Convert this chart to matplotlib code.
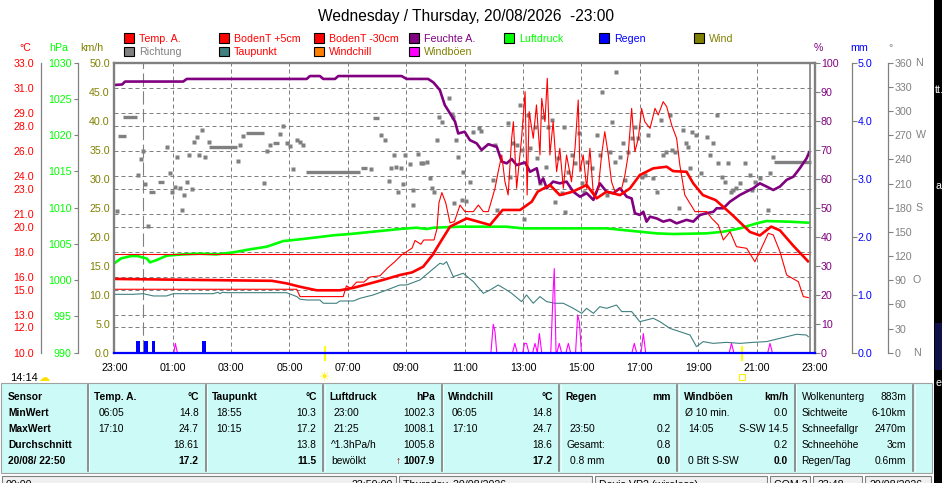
import matplotlib
matplotlib.use("Agg")
import matplotlib.pyplot as plt
import matplotlib.transforms as mtransforms
from matplotlib.patches import Rectangle

plt.rcParams['font.family'] = ['Liberation Sans', 'DejaVu Sans']
plt.rcParams['font.size'] = 7.7

# data #########################################################################
# time = hours after 23:00 of the previous day
hour_labels = ["23:00", "01:00", "03:00", "05:00", "07:00", "09:00", "11:00",
               "13:00", "15:00", "17:00", "19:00", "21:00", "23:00"]

# Temp. A. (degC)
ta_t = [0, 1.8, 5.4, 5.9, 6.36, 6.93, 7.73, 8.2, 8.64, 9.2, 9.78, 10.2, 10.58,
        10.9, 11.15, 11.5, 12.07, 12.87, 13.3, 13.9, 14.3, 14.5, 14.92, 15.26,
        15.7, 16.18, 16.52, 16.86, 17.32, 17.66, 18.0, 18.46, 18.92, 19.14,
        19.6, 19.83, 20.16, 20.6, 21.18, 21.77, 22.11, 22.5, 22.8, 23.25, 23.76]
ta_v = [15.85, 15.8, 15.7, 15.5, 15.23, 14.95, 14.95, 15.15, 15.42, 15.77,
        16.16, 16.37, 16.82, 17.75, 18.7, 20.0, 20.65, 20.13, 21.32, 21.32,
        21.98, 22.77, 23.3, 22.5, 22.77, 23.3, 22.24, 22.77, 22.5, 23.03, 24.09,
        24.62, 24.75, 24.4, 24.35, 23.43, 22.5, 22.1, 20.9, 19.58, 19.3, 20.0,
        19.7, 18.5, 17.25]

# BodenT +5cm (degC)
soil5_t = [0, 6.25, 6.36, 7.84, 7.95, 8.1, 8.3, 8.55, 8.75, 9.1, 9.35, 9.6,
           9.84, 10.2, 10.3, 10.5, 10.6, 10.95, 11.05, 11.12, 11.22, 11.35,
           11.5, 11.65, 11.84, 12.01, 12.3, 12.47, 12.64, 12.81, 13.04, 13.15,
           13.27, 13.38, 13.49, 13.61, 13.67, 13.78, 13.95, 14.07, 14.14, 14.21,
           14.35, 14.46, 14.58, 14.64, 14.75, 14.83, 14.92, 15.03, 15.15, 15.26,
           15.38, 15.49, 15.66, 15.78, 15.89, 15.95, 16.06, 16.18, 16.29, 16.41,
           16.58, 16.69, 16.8, 16.92, 17.03, 17.15, 17.38, 17.49, 17.6, 17.72,
           17.83, 17.95, 18.06, 18.17, 18.35, 18.52, 18.63, 18.8, 18.92, 19.09,
           19.26, 19.37, 19.54, 19.89, 20.29, 20.46, 20.69, 20.86, 21.09, 21.31,
           21.66, 21.94, 22.11, 22.4, 22.57, 22.8, 23.03, 23.43, 23.6, 23.77]
soil5_v = [15.03, 15.03, 14.45, 14.45, 15.3, 15.1, 15.6, 15.6, 16.0, 16.1,
           16.7, 17.2, 17.75, 18.3, 18.9, 18.6, 18.94, 18.94, 19.8, 21.9, 22.7,
           21.9, 20.3, 20.4, 21.71, 21.19, 21.19, 21.71, 21.19, 21.19, 23.04,
           24.36, 25.68, 23.56, 22.51, 27.0, 28.32, 23.04, 27.0, 30.7, 22.51,
           29.12, 27.0, 29.65, 25.68, 30.17, 28.32, 31.76, 25.68, 28.32, 24.36,
           26.21, 23.04, 25.68, 23.56, 26.21, 30.04, 24.36, 25.68, 23.04, 26.21,
           22.51, 23.04, 25.68, 27.53, 25.68, 23.56, 22.77, 23.04, 24.09, 25.68,
           29.38, 25.94, 27.0, 29.38, 28.32, 27.79, 29.38, 28.85, 29.91, 29.51,
           28.06, 27.0, 24.89, 22.51, 21.19, 21.19, 20.66, 20.13, 18.94, 19.6,
           18.41, 18.28, 17.22, 18.01, 19.47, 19.34, 18.01, 16.16, 15.63, 14.45,
           14.37]

# BodenT -30cm (degC)
soil30_t = [0, 23.83]
soil30_v = [17.83, 17.83]

# Taupunkt (degC)
dew_t = [0, 0.65, 0.99, 1.34, 1.79, 2.02, 3.39, 3.55, 3.62, 3.7, 3.85, 5.9,
         6.25, 6.36, 6.59, 7.04, 7.16, 7.61, 7.73, 8.19, 8.41, 8.87, 9.33, 9.78,
         10.01, 10.47, 10.81, 11.15, 11.27, 11.38, 11.61, 11.95, 12.3, 12.64,
         12.87, 13.15, 13.44, 13.61, 13.95, 14.12, 14.35, 14.58, 14.81, 15.09,
         15.38, 15.72, 16.01, 16.18, 16.41, 16.63, 16.86, 17.2, 17.38, 17.72,
         18.0, 18.46, 18.69, 19.03, 19.37, 19.72, 19.94, 20.17, 20.51, 20.97,
         21.43, 21.88, 22.34, 22.57, 23.03, 23.37, 23.71, 23.77]
dew_v = [14.63, 14.63, 14.68, 14.5, 14.5, 14.68, 14.68, 14.79, 14.68, 14.79,
         14.76, 14.76, 14.45, 14.24, 14.18, 14.18, 13.92, 13.92, 14.1, 14.1,
         14.31, 14.58, 14.97, 15.37, 15.37, 15.77, 16.43, 17.09, 17.01, 17.22,
         16.03, 16.3, 15.63, 14.71, 14.97, 15.37, 14.97, 14.71, 14.05, 14.58,
         13.92, 14.45, 14.05, 13.92, 13.92, 13.52, 13.12, 13.52, 13.12, 13.65,
         13.52, 13.78, 13.26, 13.26, 12.46, 12.73, 12.46, 11.93, 11.67, 11.4,
         10.48, 10.88, 10.74, 10.82, 10.74, 10.82, 10.88, 11.01, 11.27, 11.46,
         11.4, 11.27]

# Luftdruck (hPa)
p_t = [0, 0.23, 0.57, 0.8, 0.96, 1.11, 1.22, 1.45, 1.79, 2.36, 2.93, 3.5,
       4.08, 4.65, 5.22, 5.79, 6.36, 6.93, 7.5, 8.07, 8.64, 9.21, 9.78, 10.35,
       10.7, 10.93, 11.84, 13.44, 14.0, 16.86, 17.43, 18.0, 18.57, 19.14, 20.29,
       20.86, 21.43, 22.0, 22.34, 23.14, 23.77]
p_v = [1002.32, 1003.0, 1003.33, 1003.33, 1003.15, 1003.0, 1002.46, 1002.78,
       1003.38, 1003.57, 1003.66, 1003.57, 1003.84, 1004.26, 1004.62, 1005.4,
       1005.64, 1005.91, 1006.19, 1006.37, 1006.6, 1006.83, 1007.06, 1007.24,
       1007.06, 1007.24, 1007.38, 1007.38, 1007.15, 1007.15, 1006.92, 1006.69,
       1006.46, 1006.37, 1006.46, 1006.69, 1007.15, 1007.84, 1008.16, 1008.07,
       1007.93]

# Feuchte A. (%)
hum_t = [0, 0.27, 0.37, 2.36, 2.48, 6.59, 6.7, 7.04, 7.16, 7.56, 7.67, 9.84,
         10.01, 10.75, 10.93, 11.15, 11.32, 11.5, 11.67, 11.78, 12.0, 12.18,
         12.41, 12.58, 12.81, 13.1, 13.27, 13.44, 13.61, 13.78, 14.07, 14.24,
         14.47, 14.58, 14.69, 14.81, 15.03, 15.26, 15.49, 15.72, 15.95, 16.18,
         16.41, 16.63, 16.86, 17.09, 17.32, 17.55, 17.72, 17.83, 18.0, 18.12,
         18.23, 18.35, 18.58, 18.8, 19.03, 19.26, 19.6, 19.83, 20.06, 20.29,
         20.52, 20.63, 20.86, 21.09, 21.43, 21.88, 22.11, 22.34, 22.57, 22.8,
         23.03, 23.26, 23.48, 23.71, 23.8]
hum_v = [92.3, 92.5, 93.5, 93.5, 94.4, 94.4, 95.4, 95.4, 94.4, 94.4, 95.4,
         95.4, 94.4, 94.4, 93.2, 90.6, 85.4, 82.5, 79.7, 75.6, 76.2, 73.3, 72.2,
         69.9, 71.9, 71.0, 65.9, 65.3, 66.8, 64.7, 65.6, 62.4, 63.6, 58.4, 60.1,
         56.7, 59.0, 58.4, 59.0, 55.5, 53.8, 55.0, 52.7, 58.4, 55.5, 55.0, 56.7,
         53.8, 53.2, 48.1, 47.5, 48.6, 45.2, 46.9, 46.3, 45.2, 45.8, 44.6, 45.8,
         45.2, 47.5, 48.1, 48.6, 49.8, 49.8, 52.1, 54.4, 56.7, 58.4, 57.3, 56.1,
         57.3, 59.6, 60.7, 63.6, 67.0, 69.1]

# Richtung (deg), single readings
dir_t = [0.08, 0.8, 0.9, 0.97, 1.05, 1.14, 1.79, 1.91, 1.96, 2.08, 2.16, 2.25,
         2.31, 2.39, 2.48, 2.55, 2.65, 2.73, 2.82, 2.91, 2.99, 3.11, 3.25, 4.22,
         4.3, 4.42, 5.13, 5.22, 5.33, 5.67, 5.79, 5.9, 6.02, 6.13, 6.25, 6.36,
         6.47, 8.78, 9.13, 9.27, 9.4, 9.48, 9.58, 9.65, 9.73, 9.82, 9.89, 9.97,
         10.13, 10.22, 10.24, 10.41, 10.49, 10.58, 10.7, 10.81, 10.87, 10.96,
         11.04, 11.13, 11.21, 11.47, 11.55, 11.61, 11.63, 11.72, 11.78, 11.9,
         11.95, 12.04, 12.2, 12.3, 12.5, 12.56, 12.96, 13.04, 13.12, 13.5,
         13.55, 13.64, 13.78, 13.9, 13.95, 14.03, 14.18, 14.24, 14.41, 14.47,
         14.58, 14.69, 14.78, 14.86, 14.98, 15.09, 15.21, 15.32, 15.4, 15.43,
         15.55, 15.66, 15.78, 15.93, 16.01, 16.09, 16.18, 16.35, 16.52, 16.63,
         16.72, 16.86, 16.98, 17.03, 17.15, 17.2, 17.32, 17.41, 17.49, 17.6,
         17.72, 17.83, 17.95, 18.06, 18.17, 18.29, 18.46, 18.58, 18.71, 18.78,
         18.89, 19.03, 19.09, 19.2, 19.35, 19.49, 19.58, 19.66, 19.72, 19.77,
         19.94, 20.11, 20.29, 20.4, 20.52, 20.63, 20.69, 20.8, 20.92, 21.03,
         21.12, 21.2, 21.31, 21.43, 21.6, 21.77, 21.83, 21.94, 22.11, 22.4,
         22.46, 22.55]
dir_v = [176, 220, 240.5, 250.4, 210, 157.7, 255.8, 222.7, 200, 206.2, 243.4,
         205, 177.2, 195.8, 212.4, 245.5, 202.8, 261.2, 268.2, 245.5, 276.5,
         243.4, 261.2, 238, 257.9, 269.5, 211, 250.4, 257.9, 271.5, 281.9, 260,
         256, 228, 264, 261, 258, 228, 270.3, 264, 213.2, 229.7, 245.5, 231, 200,
         229.7, 209.5, 245.5, 233.9, 183.4, 202, 246.3, 235, 235, 236.4, 217.3,
         204.1, 199.1, 264, 293, 286.8, 316.6, 296, 293, 186.3, 264, 243.4,
         189.6, 224.8, 188.8, 212.4, 273.6, 279.4, 275.3, 214.4, 257.9, 177.2,
         284.8, 218.6, 260, 257.9, 307.5, 251.7, 166, 295.1, 253.7, 280.6,
         241.3, 210.3, 293, 231, 280.6, 288.9, 187.5, 241.3, 197.9, 280.6, 175.1,
         224.8, 245.5, 235, 272.4, 210.3, 200, 237.2, 228.9, 270.3, 245.5, 324.1,
         195.8, 249.6, 286.8, 237.2, 348.9, 243.4, 260, 214.4, 249.6, 266.1,
         280.6, 266.1, 218.6, 220.6, 270.3, 216.5, 200, 288.9, 245.5, 249.6,
         295.1, 251.7, 249.6, 179.3, 276.5, 260, 255.8, 228.9, 274.4, 270.3,
         222.7, 268.2, 245.5, 260, 295.1, 235, 218.6, 212.4, 235, 200, 202, 204.1,
         210.3, 235, 220.6, 202, 212.4, 216.5, 177.2, 222.7, 243.4]
# Richtung, runs of the same reading
dirrun_start = [0.14, 0.31, 1.2, 1.49, 3.26, 4.51, 5.43, 6.57, 8.45, 8.85, 22.61]
dirrun_end = [0.39, 0.79, 1.41, 1.7, 4.21, 5.12, 5.64, 8.43, 8.66, 9.06, 23.85]
dirrun_v = [269, 292, 200, 212.4, 255.8, 272.4, 260.8, 224.8, 229.7, 291.8, 237.2]

# Regen (mm)
rain_t = [0.82, 1.09, 1.34, 3.07]
rain_mm = [0.2, 0.2, 0.2, 0.2]
rain_line_t = [0, 24]
rain_line_v = [0.0, 0.0]

# Wind / Windboeen (km/h)
wind_t = [0, 23.83]
wind_v = [0.0, 0.0]
gust_t = [0, 2.04, 2.09, 2.16, 12.9, 12.98, 13.04, 13.1, 13.64, 13.72, 13.8,
          13.99, 14.05, 14.12, 14.2, 14.33, 14.41, 14.49, 14.56, 14.64, 14.95,
          15.03, 15.07, 15.13, 15.16, 15.24, 15.32, 15.47, 15.55, 15.63, 15.8,
          15.87, 15.93, 16.0, 17.73, 17.81, 17.89, 18.04, 18.12, 18.2, 21.06,
          21.14, 21.22, 22.38, 22.46, 22.54, 23.83]
gust_v = [0, 0, 1.6, 0, 0, 4.9, 3.6, 0, 0, 1.6, 0, 0, 1.6, 1.6, 0, 0, 1.6, 0,
          3.3, 0, 0, 10.5, 14.5, 0, 0, 1.6, 0, 0, 1.6, 0, 0, 6.5, 5.3, 0, 0, 1.6,
          0, 0, 3.3, 0, 0, 1.6, 0, 0, 1.6, 0, 0]

midnight_t = 1.0
now_t = 23.83
sun_t = [7.22, 21.49]   # sunrise, sunset

# scales
temp_ticks = [10, 12, 13, 15, 16, 18, 20, 21, 23, 24, 26, 28, 29, 31, 33]
hpa_ticks = [990, 995, 1000, 1005, 1010, 1015, 1020, 1025, 1030]
kmh_ticks = [0, 5, 10, 15, 20, 25, 30, 35, 40, 45, 50]
hum_ticks = [0, 10, 20, 30, 40, 50, 60, 70, 80, 90, 100]
mm_ticks = [0, 1, 2, 3, 4, 5]
deg_ticks = [0, 30, 60, 90, 120, 150, 180, 210, 240, 270, 300, 330, 360]
deg_letters = [(360, "N"), (270, "W"), (180, "S"), (90, "O"), (0, "N")]

# table
tbl_head = ["Temp. A.", "Taupunkt", "Luftdruck", "Windchill", "Regen", "Windböen"]
tbl_unit = ["°C", "°C", "hPa", "°C", "mm", "km/h"]
tbl_rows = ["MinWert", "MaxWert", "Durchschnitt", "20/08/ 22:50"]
tbl_left = [["06:05", "17:10", "", ""],
            ["18:55", "10:15", "", ""],
            ["23:00", "21:25", "^1.3hPa/h", "bewölkt"],
            ["06:05", "17:10", "", ""],
            ["", "23:50", "Gesamt:", "0.8 mm"],
            ["Ø 10 min.", "14:05", "", "0 Bft S-SW"]]
tbl_right = [["14.8", "24.7", "18.61", "17.2"],
             ["10.3", "17.2", "13.8", "11.5"],
             ["1002.3", "1008.1", "1005.8", "1007.9"],
             ["14.8", "24.7", "18.6", "17.2"],
             ["", "0.2", "0.8", "0.0"],
             ["0.0", "S-SW 14.5", "0.2", "0.0"]]
extra_names = ["Wolkenunterg", "Sichtweite", "Schneefallgr", "Schneehöhe", "Regen/Tag"]
extra_vals = ["883m", "6-10km", "2470m", "3cm", "0.6mm"]
status_left = ["00:00", "Thursday, 20/08/2026", "Davis VP2 (wireless)", "COM 3", "23:48", "20/08/2026"]

# colours ######################################################################
C_T = '#ff0000'
C_P = '#00ff00'
C_W = '#808000'
C_H = '#800080'
C_R = '#0000ff'
C_DEW = '#408080'
C_GUST = '#ff00ff'
C_CHILL = '#ff8000'
GRAY = '#808080'
TBL = '#ccfaf6'

# figure #######################################################################
W, H = 942, 483
fig = plt.figure(figsize=(W / 100, H / 100), dpi=100)
fig.patch.set_facecolor('white')

L, R, B, T = 114.3, 815.0, 352.7, 62.7
rect = [L / W, 1 - B / H, (R - L) / W, (B - T) / H]

ax = fig.add_axes(rect)          # temperature scale + grid
axd = ax.twinx()                 # direction
axp = ax.twinx()                 # pressure
axh = ax.twinx()                 # humidity
axt = ax.twinx()                 # temperature data
axw = ax.twinx()                 # km/h + frame
axr = ax.twinx()                 # rain
for z, a in enumerate([ax, axd, axp, axh, axt, axw, axr]):
    a.set_zorder(z)
    a.set_xlim(0, 24)
    for s in a.spines.values():
        s.set_visible(False)

# temperature axis
ax.set_ylim(10, 33)
ax.set_yticks(temp_ticks)
ax.set_yticklabels(["%.1f" % v for v in temp_ticks])
ax.tick_params(axis='y', length=0, pad=4.6, labelcolor=C_T)
ax.set_yticks([10, 33], minor=True)
ax.tick_params(axis='y', which='minor', length=3.6, color=GRAY, width=0.8)
ax.spines['left'].set_visible(True)
ax.spines['left'].set_position(('outward', 53.0))
ax.spines['left'].set_color(GRAY)
ax.spines['left'].set_linewidth(0.9)
ax.set_xticks(range(0, 25, 2))
ax.set_xticklabels(hour_labels)
ax.tick_params(axis='x', length=0, pad=7.2, labelcolor='black')
ax.set_axisbelow(True)
ax.grid(True, color=GRAY, lw=0.72, ls=(0, (4, 3)))
ax.axvline(midnight_t, color=GRAY, lw=0.8, ls=(0, (12, 4)))

# km/h axis + frame
axw.set_ylim(0, 50)
axw.yaxis.tick_left()
axw.set_yticks(kmh_ticks)
axw.set_yticklabels(["%.1f" % v for v in kmh_ticks])
axw.tick_params(axis='y', length=0, pad=3.2, labelcolor=C_W)
for k in ['left', 'top', 'right']:
    axw.spines[k].set_visible(True)
    axw.spines[k].set_color(GRAY)
    axw.spines[k].set_linewidth(1.7)

# hPa axis
axp.set_ylim(990, 1030)
axp.yaxis.tick_left()
axp.set_yticks(hpa_ticks)
axp.set_yticklabels(["%d" % v for v in hpa_ticks])
axp.tick_params(axis='y', length=3.2, width=0.8, color=GRAY, pad=1.2, labelcolor=C_P)
axp.spines['left'].set_visible(True)
axp.spines['left'].set_position(('outward', 26.35))
axp.spines['left'].set_color(GRAY)
axp.spines['left'].set_linewidth(0.9)

# % axis
axh.set_ylim(0, 100)
axh.set_yticks(hum_ticks)
axh.set_yticklabels(["%d" % v for v in hum_ticks])
axh.tick_params(axis='y', length=3.6, width=0.8, color=GRAY, pad=0.6, labelcolor=C_H)

# mm axis
axr.set_ylim(0, 5)
axr.set_yticks(mm_ticks)
axr.set_yticklabels(["%.1f" % v for v in mm_ticks])
axr.tick_params(axis='y', length=3.6, width=0.8, color=GRAY, pad=0.6, labelcolor=C_R)
axr.spines['right'].set_visible(True)
axr.spines['right'].set_position(('outward', 26.4))
axr.spines['right'].set_color(GRAY)
axr.spines['right'].set_linewidth(0.9)

# degree axis
axd.set_ylim(0, 360)
axd.set_yticks(deg_ticks)
axd.set_yticklabels(["%d" % v for v in deg_ticks])
axd.tick_params(axis='y', length=3.6, width=0.8, color=GRAY, pad=0.6, labelcolor=GRAY)
axd.spines['right'].set_visible(True)
axd.spines['right'].set_position(('outward', 52.8))
axd.spines['right'].set_color(GRAY)
axd.spines['right'].set_linewidth(0.9)

axt.set_ylim(10, 33)
axt.set_yticks([])

# series #######################################################################
axd.plot(dir_t, dir_v, 's', ms=2.4, color=GRAY, mec='none')
axd.hlines(dirrun_v, dirrun_start, dirrun_end, color=GRAY, lw=2.4)
axp.plot(p_t, p_v, color=C_P, lw=1.9)
axh.plot(hum_t, hum_v, color=C_H, lw=1.9)
axt.plot(soil30_t, soil30_v, color=C_T, lw=0.8)
axt.plot(dew_t, dew_v, color=C_DEW, lw=0.8)
axt.plot(soil5_t, soil5_v, color=C_T, lw=0.8)
axt.plot(ta_t, ta_v, color=C_T, lw=1.9)
axw.plot(gust_t, gust_v, color=C_GUST, lw=0.8)
axw.plot(wind_t, wind_v, color=C_W, lw=1.4)
axw.axvline(now_t, color=GRAY, lw=1.2)
axr.bar(rain_t, rain_mm, width=0.12, color=C_R)
axr.plot(rain_line_t, rain_line_v, color=C_R, lw=1.6, clip_on=False)

# sunrise / sunset marks
tr = mtransforms.blended_transform_factory(ax.transData, ax.transAxes)
for st in sun_t:
    ax.plot([st, st], [0.018, -0.026], color='#ffff00', lw=1.5, transform=tr, clip_on=False)
ax.text(sun_t[0], -0.085, "☀", color='#ffee00', fontsize=9, ha='center', va='center',
        transform=tr, family=['DejaVu Sans'])
ax.plot([sun_t[1]], [-0.083], 's', ms=4, mfc='none', mec='#ffee00', mew=0.8,
        transform=tr, clip_on=False)

# overlay for texts ############################################################
ov = fig.add_axes([0, 0, 1, 1])
ov.set_xlim(0, W)
ov.set_ylim(H, 0)
ov.axis('off')
ov.patch.set_visible(False)
ov.set_zorder(20)

ov.text(466.5, 20.7, "Wednesday / Thursday, 20/08/2026  -23:00", fontsize=11.2,
        ha='center', va='baseline')

units = [(25.5, "°C", C_T), (58.5, "hPa", C_P), (92, "km/h", C_W),
         (818.3, "%", C_H), (859.5, "mm", C_R), (890.5, "°", GRAY)]
for x, s, c in units:
    ov.text(x, 50.7, s, color=c, ha='center', va='baseline')

dtr = mtransforms.blended_transform_factory(ov.transData, axd.transData)
for v, s in deg_letters:
    xl = 915.5 if v >= 180 else 912.7
    axd.text(xl, v, s, color=GRAY, ha='left', va='center', transform=dtr, clip_on=False)

# legend
leg1 = [("Temp. A.", C_T, C_T), ("BodenT +5cm", C_T, C_T), ("BodenT -30cm", C_T, C_T),
        ("Feuchte A.", C_H, C_H), ("Luftdruck", C_P, C_P), ("Regen", C_R, C_R),
        ("Wind", C_W, C_W)]
leg2 = [("Richtung", GRAY, GRAY), ("Taupunkt", C_DEW, C_T),
        ("Windchill", C_CHILL, C_T), ("Windböen", C_GUST, C_W)]
for row, yc in [(leg1, 38.0), (leg2, 51.6)]:
    for i, (name, box, tc) in enumerate(row):
        x0 = 124 + 95 * i
        ov.add_patch(Rectangle((x0, yc - 4.7), 9.5, 9.5, facecolor=box,
                               edgecolor='black', lw=0.8))
        ov.text(x0 + 15, yc + 3.8, name, color=tc, va='baseline')

# clock + icon
ov.text(10, 381, "14:14", color='black', fontsize=8, va='baseline')
ov.text(44, 378, "☁", color='#ffdd00', fontsize=8, ha='center', va='center',
        family=['DejaVu Sans'])

# table
ov.add_patch(Rectangle((1, 383), 931, 90, facecolor=TBL, edgecolor='#a0a0a0', lw=0.8))
seps = [88, 205.5, 323.3, 441.5, 559.3, 677.3, 795, 913.3]
for s in seps:
    ov.plot([s, s], [385, 471], color=GRAY, lw=1.2)
    ov.plot([s + 1.3, s + 1.3], [385, 471], color='white', lw=0.6)
base = [400, 416, 432, 448, 464]
fs = 7.4
ov.text(8, base[0], "Sensor", fontsize=fs, weight='bold', va='baseline')
for i, s in enumerate(tbl_rows):
    ov.text(8, base[i + 1], s, fontsize=fs, weight='bold', va='baseline')
for c in range(6):
    s0, s1 = seps[c], seps[c + 1]
    ov.text(s0 + 6.5, base[0], tbl_head[c], fontsize=fs, weight='bold', va='baseline')
    ov.text(s1 - 6.8, base[0], tbl_unit[c], fontsize=fs, weight='bold', va='baseline', ha='right')
    for r in range(4):
        lt = tbl_left[c][r]
        if lt:
            off = 10.5 if lt[0].isdigit() else 7.5
            ov.text(s0 + off, base[r + 1], lt, fontsize=fs, va='baseline')
        rt = tbl_right[c][r]
        if rt:
            ov.text(s1 - 6.8, base[r + 1], rt, fontsize=fs, va='baseline', ha='right',
                    weight='bold' if r == 3 else 'normal')
ov.text(401, base[4], "↑", color='#800000', fontsize=fs, weight='bold', va='baseline', ha='right')
for r in range(5):
    ov.text(801.5, base[r], extra_names[r], fontsize=fs, va='baseline')
    ov.text(906, base[r], extra_vals[r], fontsize=fs, va='baseline', ha='right')

# status bar (cut off at the bottom)
boxes = [(2, 394), (399, 193), (595, 172), (770, 40), (813, 49), (865, 66)]
for (x0, w), s in zip(boxes, status_left):
    ov.add_patch(Rectangle((x0, 475.5), w, 12, facecolor='#f0f0f0', edgecolor=GRAY, lw=0.8))
    ov.text(x0 + 4, 479.5, s, fontsize=7.7, va='top')
ov.text(393, 479.5, "23:59:00", fontsize=7.7, va='top', ha='right')

# screen edge on the right
ov.add_patch(Rectangle((933.5, 0), 9, H, facecolor='black', edgecolor='none'))
ov.add_patch(Rectangle((935, 323), 8, 47, facecolor='#10104a', edgecolor='none'))
ov.text(935, 90, "tt.", color='white', fontsize=7.7, va='center')
ov.text(935, 186, "a", color='white', fontsize=7.7, va='center')
ov.text(936, 383, "e", color='white', fontsize=7.7, va='center')

fig.savefig("out.png", dpi=100)
